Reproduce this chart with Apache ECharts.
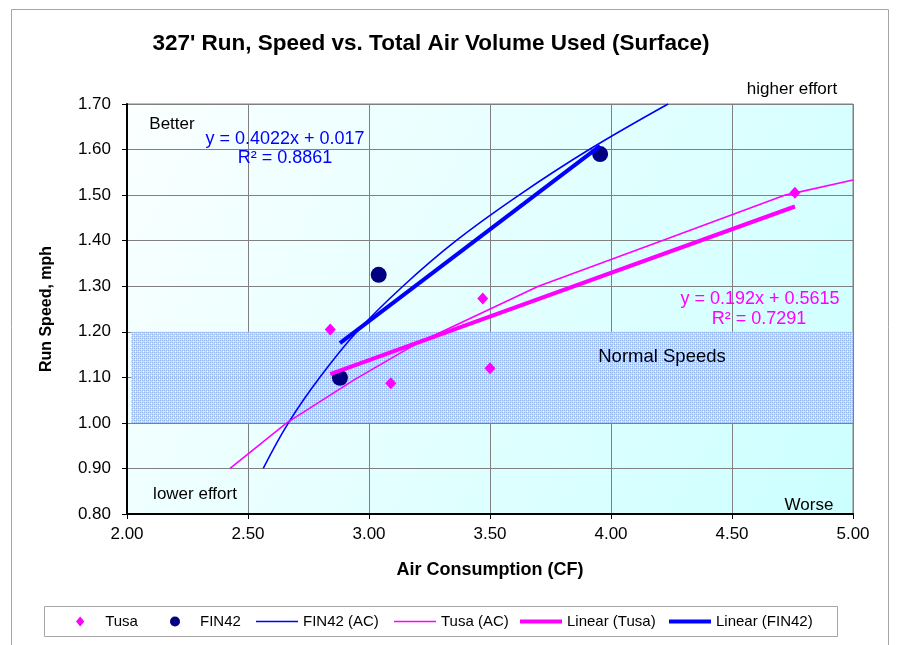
<!DOCTYPE html>
<html>
<head>
<meta charset="utf-8">
<script src="https://cdn.jsdelivr.net/npm/echarts@6/dist/echarts.min.js"></script>
<style>
    html, body {margin: 0; padding: 0; background: #fff;}
    #chartId {width: 898px; height: 645px;}
</style>
</head>
<body>
<div id="chartId"></div>
<script>
/* 327' Run, Speed vs. Total Air Volume Used (Surface) */

// measured points
const tusaPoints = [[2.84, 1.205], [3.09, 1.087], [3.47, 1.273], [3.50, 1.120], [4.76, 1.505]];
const fin42Points = [[2.88, 1.099], [3.04, 1.325], [3.955, 1.590]];
// air consumption curves
const fin42AC = [[2.563, 0.90], [2.667, 1.00], [2.797, 1.10], [2.95, 1.20], [3.14, 1.30],
    [3.36, 1.40], [3.62, 1.50], [3.91, 1.60], [4.236, 1.70]];
const tusaAC = [[2.426, 0.90], [2.66, 1.00], [2.94, 1.095], [3.20, 1.175], [3.70, 1.30],
    [4.21, 1.40], [4.72, 1.50], [5.00, 1.533]];
// trend lines (end points)
const linearTusa = [[2.84, 1.107], [4.76, 1.475]];
const linearFin42 = [[2.88, 1.175], [3.955, 1.608]];
// "Normal Speeds" band
const normalBandX = [2.017, 5.00];
const normalBandY = [1.00, 1.20];
// axes
const xRange = [2.00, 5.00];
const xStep = 0.5;
const yRange = [0.80, 1.70];
const yStep = 0.1;

const FONT = 'Liberation Sans, Arial, sans-serif';
const MAGENTA = '#ff00ff';
const BLUE = '#0000ff';
const NAVY = '#000080';

// little dotted pattern for the band
function bandPattern() {
    let c = document.createElement('canvas');
    c.width = 4;
    c.height = 4;
    let ctx = c.getContext('2d');
    ctx.fillStyle = 'rgba(192,213,248,0.85)';
    ctx.fillRect(0, 0, 4, 4);
    ctx.fillStyle = 'rgba(146,178,238,0.9)';
    ctx.fillRect(0, 0, 1, 1);
    ctx.fillRect(2, 2, 1, 1);
    ctx.fillRect(2, 0, 1, 1);
    ctx.fillRect(0, 2, 1, 1);
    ctx.fillStyle = 'rgba(240,248,255,0.9)';
    ctx.fillRect(1, 1, 1, 1);
    ctx.fillRect(3, 3, 1, 1);
    return c;
}

// legend icons (paths keep their aspect inside the icon box)
const ICON_DIAMOND = 'path://M5,0L10,6L5,12L0,6Z';
const ICON_CIRCLE = 'path://M0,5A5,5,0,1,1,10,5A5,5,0,1,1,0,5Z';
const ICON_THIN = 'path://M0,0L28,0L28,1L0,1Z';
const ICON_THICK = 'path://M0,0L42,0L42,4L0,4Z';

// legend slots: icon box left edge and width
const legendSlots = [
    {name: 'Tusa', left: 76, width: 40, icon: ICON_DIAMOND},
    {name: 'FIN42', left: 170, width: 40, icon: ICON_CIRCLE},
    {name: 'FIN42 (AC)', left: 256, width: 42, icon: ICON_THIN},
    {name: 'Tusa (AC)', left: 394, width: 42, icon: ICON_THIN},
    {name: 'Linear (Tusa)', left: 520, width: 42, icon: ICON_THICK},
    {name: 'Linear (FIN42)', left: 669, width: 42, icon: ICON_THICK}
];

const notes = [
    {text: "327' Run, Speed vs. Total Air Volume Used (Surface)", x: 431, y: 44, size: 22.5, bold: true},
    {text: 'higher effort', x: 792, y: 89, size: 17},
    {text: 'Better', x: 172, y: 124, size: 17},
    {text: 'y = 0.4022x + 0.017', x: 285, y: 139, size: 18, color: BLUE},
    {text: 'R² = 0.8861', x: 285, y: 158, size: 18, color: BLUE},
    {text: 'y = 0.192x + 0.5615', x: 760, y: 299, size: 18, color: MAGENTA},
    {text: 'R² = 0.7291', x: 759, y: 319, size: 18, color: MAGENTA},
    {text: 'Normal Speeds', x: 662, y: 357, size: 18.5},
    {text: 'lower effort', x: 195, y: 494, size: 17},
    {text: 'Worse', x: 809, y: 505, size: 17}
];

let chart = echarts.init(document.getElementById('chartId'));

let lineSeries = function (name, data, color, width, smooth) {
    return {
        name: name,
        type: 'line',
        data: data,
        symbol: 'none',
        showSymbol: false,
        smooth: smooth || false,
        lineStyle: {color: color, width: width},
        itemStyle: {color: color},
        z: 3
    };
};

chart.setOption({
    animation: false,
    textStyle: {fontFamily: FONT},
    grid: {
        left: 127, right: 45, top: 104, bottom: 131,
        show: true,
        backgroundColor: new echarts.graphic.LinearGradient(0, 0, 1, 1, [
            {offset: 0, color: '#fbffff'},
            {offset: 1, color: '#ccffff'}
        ]),
        borderColor: '#808080',
        borderWidth: 1
    },
    xAxis: {
        type: 'value',
        min: xRange[0], max: xRange[1], interval: xStep,
        name: 'Air Consumption (CF)',
        nameLocation: 'middle',
        nameGap: 47,
        nameTextStyle: {fontFamily: FONT, fontSize: 18, fontWeight: 'bold', color: '#000'},
        axisLine: {lineStyle: {color: '#000', width: 2}},
        axisTick: {show: true, length: 5, lineStyle: {color: '#000'}},
        axisLabel: {fontFamily: FONT, fontSize: 17, color: '#000', margin: 12,
            formatter: v => v.toFixed(2)},
        splitLine: {lineStyle: {color: '#808080', width: 1}}
    },
    yAxis: {
        type: 'value',
        min: yRange[0], max: yRange[1], interval: yStep,
        name: 'Run Speed, mph',
        nameLocation: 'middle',
        nameGap: 72,
        nameRotate: 90,
        nameTextStyle: {fontFamily: FONT, fontSize: 16, fontWeight: 'bold', color: '#000'},
        axisLine: {lineStyle: {color: '#000', width: 2}},
        axisTick: {show: true, length: 5, lineStyle: {color: '#000'}},
        axisLabel: {fontFamily: FONT, fontSize: 17, color: '#000', margin: 16,
            formatter: v => v.toFixed(2)},
        splitLine: {lineStyle: {color: '#808080', width: 1}}
    },
    legend: legendSlots.map(s => ({
        data: [{name: s.name, icon: s.icon}],
        left: s.left,
        top: 614,
        padding: 0,
        itemWidth: s.width,
        itemHeight: 10,
        itemGap: 0,
        symbolKeepAspect: true,
        textStyle: {fontFamily: FONT, fontSize: 15, color: '#000'}
    })),
    series: [
        {
            name: 'band',
            type: 'line',
            data: [],
            z: 1,
            silent: true,
            markArea: {
                silent: true,
                itemStyle: {color: {image: bandPattern(), repeat: 'repeat'}},
                data: [[
                    {coord: [normalBandX[0], normalBandY[0]]},
                    {coord: [normalBandX[1], normalBandY[1]]}
                ]]
            }
        },
        {
            name: 'Tusa',
            type: 'scatter',
            data: tusaPoints,
            symbol: 'diamond',
            symbolSize: [11, 12],
            itemStyle: {color: MAGENTA, opacity: 1},
            z: 2
        },
        {
            name: 'FIN42',
            type: 'scatter',
            data: fin42Points,
            symbol: 'circle',
            symbolSize: 16,
            itemStyle: {color: NAVY, opacity: 1},
            z: 2
        },
        lineSeries('FIN42 (AC)', fin42AC, BLUE, 1.6, 0.4),
        lineSeries('Tusa (AC)', tusaAC, MAGENTA, 1.6),
        lineSeries('Linear (Tusa)', linearTusa, MAGENTA, 4),
        lineSeries('Linear (FIN42)', linearFin42, BLUE, 4)
    ],
    graphic: [
        {
            type: 'rect', silent: true,
            shape: {x: 11.5, y: 9.5, width: 877, height: 660},
            style: {fill: 'none', stroke: '#a6a6a6', lineWidth: 1}
        },
        {
            type: 'rect', silent: true,
            shape: {x: 44.5, y: 606.5, width: 793, height: 30},
            style: {fill: 'none', stroke: '#a6a6a6', lineWidth: 1}
        }
    ].concat(notes.map(n => ({
        type: 'text',
        silent: true,
        x: n.x,
        y: n.y,
        z: 10,
        style: {
            text: n.text,
            fill: n.color || '#000',
            font: (n.bold ? 'bold ' : '') + n.size + 'px ' + FONT,
            textAlign: 'center',
            textVerticalAlign: 'middle'
        }
    })))
});
</script>
</body>
</html>
